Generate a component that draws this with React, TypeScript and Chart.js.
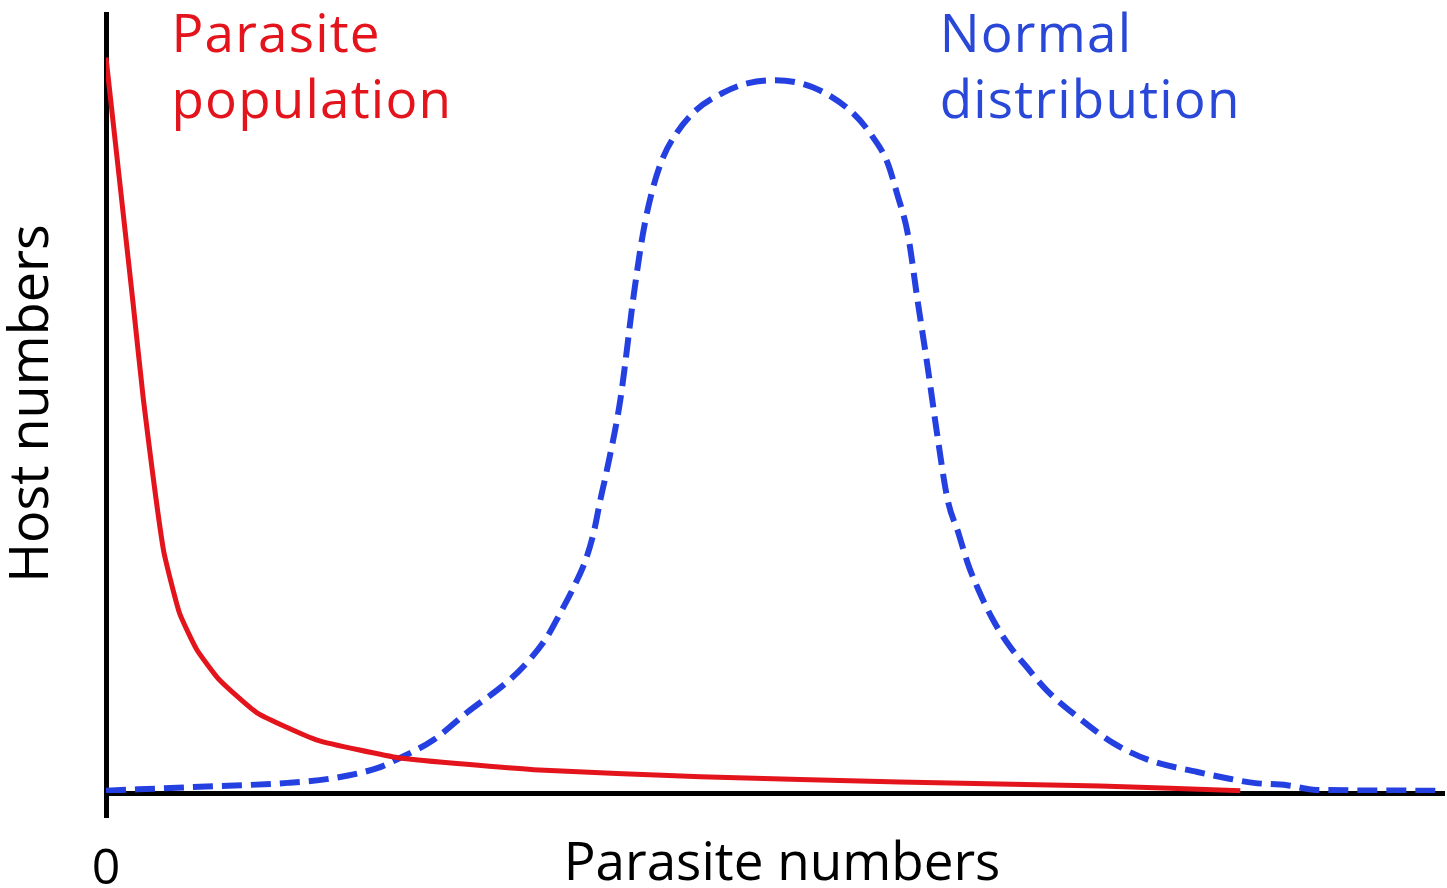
import React, { useEffect, useRef } from "react";
import { Chart, registerables } from "chart.js";

Chart.register(...registerables);

// Parasite population (red, solid)
const parasiteX = [0, 2.0, 2.8, 4.3, 5.5, 6.8, 8.5, 11.3, 15.8, 22.0, 32.0, 44.5, 59.4, 74.4, 84.9];
const parasiteY = [94.4, 63.3, 50.5, 31.2, 23.1, 18.4, 14.5, 10.3, 6.8, 4.5, 3.0, 2.1, 1.4, 0.9, 0.3];

// Normal distribution (blue, dashed)
const normalX = [0, 7.0, 13.6, 17.0, 20.3, 22.0, 24.5, 27.0, 30.2, 31.7, 33.0, 34.0, 35.0, 35.9, 36.5, 37.0, 37.5, 38.5, 39.5, 40.2, 40.9, 41.7, 42.7, 44.2, 46.2, 48.0, 50.1, 52.9, 55.9, 57.4, 58.5, 59.2, 60.0, 60.8, 61.5, 62.2, 63.0, 63.8, 64.5, 65.3, 66.4, 67.7, 68.9, 70.4, 72.7, 75.4, 78.1, 81.7, 83.9, 85.9, 88.4, 90.6, 100];
const normalY = [0.3, 0.8, 1.3, 1.9, 3.2, 4.5, 6.8, 10.3, 14.5, 17.1, 20.0, 23.1, 26.4, 29.9, 33.4, 37.6, 41.5, 50.5, 63.9, 71.9, 77.4, 81.6, 84.7, 87.7, 89.9, 91.1, 91.5, 90.6, 87.3, 84.2, 80.9, 77.0, 71.9, 62.6, 54.7, 46.2, 37.6, 33.4, 29.5, 26.1, 22.2, 18.7, 16.2, 13.2, 9.8, 6.4, 4.2, 2.7, 1.9, 1.3, 1.0, 0.4, 0.3];

// Tick labels and titles
const xTickLabels = ["0"];
const xTitle = "Parasite numbers";
const xTitleAt = 50.6; // data-x where the axis title is centred
const yTitle = "Host numbers";

// In-plot labels (text lines and anchor positions in data units)
const labelLines = [["Parasite", "population"], ["Normal", "distribution"]];
const labelX = [4.9, 62.4];
const labelLineY = [95.1, 86.6];

const RED = "#e3141c";
const BLUE = "#2440e0";
const BLUE_TEXT = "#2a48d8";
const FONT = "'Open Sans', 'DejaVu Sans', sans-serif";

const labelPlugin = {
  id: "curveLabels",
  afterDatasetsDraw(chart: any) {
    const { ctx, scales } = chart;
    const colors = [RED, BLUE_TEXT];
    ctx.save();
    ctx.font = `53px ${FONT}`;
    try {
      (ctx as any).letterSpacing = "1.2px";
    } catch (e) {}
    ctx.textAlign = "left";
    ctx.textBaseline = "alphabetic";
    labelLines.forEach((lines, i) => {
      ctx.fillStyle = colors[i];
      lines.forEach((line, j) => {
        const px = scales.x.getPixelForValue(labelX[i]);
        const py = scales.y.getPixelForValue(labelLineY[j]);
        ctx.fillText(line, px, py);
      });
    });
    ctx.restore();

    // x-axis title
    ctx.save();
    ctx.font = `53px ${FONT}`;
    ctx.fillStyle = "#000";
    ctx.textAlign = "center";
    ctx.textBaseline = "alphabetic";
    ctx.fillText(xTitle, scales.x.getPixelForValue(xTitleAt), scales.x.bottom - 8);
    ctx.restore();
  },
};

export default function App() {
  const canvasRef = useRef<HTMLCanvasElement | null>(null);

  useEffect(() => {
    document.body.style.margin = "0";
    const canvas = canvasRef.current;
    if (!canvas) return;
    const chart = new Chart(canvas, {
      type: "line",
      data: {
        datasets: [
          {
            label: "Parasite population",
            data: parasiteX.map((x, i) => ({ x, y: parasiteY[i] })),
            borderColor: RED,
            borderWidth: 5,
            pointRadius: 0,
            tension: 0.15,
            fill: false,
          },
          {
            label: "Normal distribution",
            data: normalX.map((x, i) => ({ x, y: normalY[i] })),
            borderColor: BLUE,
            borderWidth: 6,
            borderDash: [20, 9],
            pointRadius: 0,
            cubicInterpolationMode: "monotone",
            fill: false,
          },
        ],
      },
      options: {
        animation: false,
        responsive: false,
        maintainAspectRatio: false,
        layout: { padding: { top: 14, right: 5, left: 0, bottom: 0 } },
        plugins: {
          legend: { display: false },
          tooltip: { enabled: false },
        },
        scales: {
          x: {
            type: "linear",
            min: 0,
            max: 100,
            afterFit: (scale: any) => {
              scale.height = 95;
              scale.paddingLeft = 0;
              scale.paddingRight = 0;
            },
            ticks: {
              stepSize: 100,
              padding: 22,
              color: "#000",
              font: { family: FONT, size: 50 },
              callback: (v: any) => (v === 0 ? xTickLabels[0] : ""),
            },
            grid: {
              drawOnChartArea: false,
              drawTicks: true,
              tickLength: 25,
              lineWidth: 5,
              color: (c: any) => (c.tick && c.tick.value === 0 ? "#000" : "rgba(0,0,0,0)"),
            },
            border: { display: true, color: "#000", width: 5 },
            title: { display: false, text: xTitle },
          },
          y: {
            type: "linear",
            min: 0,
            max: 100,
            afterFit: (scale: any) => {
              scale.width = 106;
            },
            ticks: { display: false },
            grid: { display: false },
            border: { display: true, color: "#000", width: 5 },
            title: {
              display: true,
              text: yTitle,
              color: "#000",
              font: { family: FONT, size: 54, lineHeight: 1 },
              padding: { top: 6, bottom: 0 },
            },
          },
        },
      },
      plugins: [labelPlugin],
    });
    return () => chart.destroy();
  }, []);

  return (
    <div style={{ position: "absolute", left: 0, top: 0, width: 1447, height: 888, background: "#fff" }}>
      <canvas ref={canvasRef} width={1447} height={888} style={{ display: "block" }} />
    </div>
  );
}
